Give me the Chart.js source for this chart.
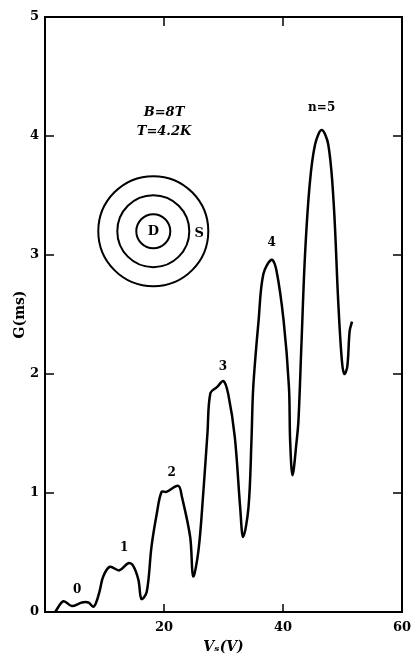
<!DOCTYPE html>
<html>
<head>
<meta charset="utf-8">
<script src="https://cdn.jsdelivr.net/npm/chart.js@4"></script>
<style>
  html, body { margin: 0; padding: 0; background: #fff; }
  #wrap { width: 411px; height: 660px; }
</style>
</head>
<body>
<div id="wrap"><canvas id="chart-1" width="411" height="660"></canvas></div>
<script>
// gate voltage Vs (V) and conductance G (ms)
const vs = [1.7, 3.1, 4.5, 6.2, 7.3, 8.1, 8.6, 9.2, 9.8, 10.9, 12.5, 14.0, 14.8, 15.7, 16.2, 17.1,
  17.9, 18.8, 19.6, 20.4, 22.4, 23.0, 24.4, 24.9, 25.8, 26.6, 27.3, 27.8, 28.9, 30.0, 30.8,
  31.9, 32.8, 33.3, 34.2, 34.7, 35.0, 35.9, 36.7, 38.1, 38.9, 40.1, 41.0, 41.2, 41.6, 42.3,
  42.6, 43.1, 43.7, 44.5, 45.4, 46.5, 47.6, 48.5, 49.3, 49.9, 50.3, 50.8, 51.2, 51.6];
const gs = [0.0, 0.09, 0.05, 0.08, 0.08, 0.045, 0.08, 0.18, 0.30, 0.38, 0.35, 0.41, 0.39, 0.27, 0.11, 0.17,
  0.55, 0.83, 1.01, 1.01, 1.06, 0.97, 0.63, 0.30, 0.52, 1.0, 1.50, 1.84, 1.89, 1.94, 1.83,
  1.47, 0.88, 0.63, 0.88, 1.44, 1.89, 2.45, 2.84, 2.96, 2.87, 2.45, 1.89, 1.44, 1.15, 1.44,
  1.61, 2.25, 3.0, 3.6, 3.93, 4.05, 3.93, 3.45, 2.59, 2.11, 2.0, 2.06, 2.36, 2.44];

// peak labels (n) placed above each maximum
const peakLabels = ['0', '1', '2', '3', '4', 'n=5'];
const peakX = [5.4, 13.3, 21.3, 29.9, 38.1, 46.5];
const peakY = [0.19, 0.54, 1.17, 2.06, 3.1, 4.24];

const xLabels = [20, 40, 60];

const serif = '"DejaVu Serif", "Liberation Serif", serif';

const frame = {
  id: 'frame',
  afterDraw(chart) {
    const { ctx, chartArea: a, scales } = chart;
    const x = scales.x, y = scales.y;
    ctx.save();
    ctx.strokeStyle = '#000';
    ctx.lineWidth = 2;
    ctx.strokeRect(a.left, a.top, a.right - a.left, a.bottom - a.top);
    ctx.lineWidth = 1.5;
    ctx.beginPath();
    y.ticks.forEach(t => {
      const p = y.getPixelForValue(t.value);
      if (p <= a.top + 1 || p >= a.bottom - 1) return;
      ctx.moveTo(a.left, p); ctx.lineTo(a.left + 9, p);
      ctx.moveTo(a.right, p); ctx.lineTo(a.right - 9, p);
    });
    x.ticks.forEach(t => {
      const p = x.getPixelForValue(t.value);
      if (p <= a.left + 1 || p >= a.right - 1) return;
      ctx.moveTo(p, a.top); ctx.lineTo(p, a.top + 9);
      ctx.moveTo(p, a.bottom); ctx.lineTo(p, a.bottom - 8);
    });
    ctx.stroke();

    // peak numbers
    ctx.fillStyle = '#000';
    ctx.textAlign = 'center';
    ctx.textBaseline = 'middle';
    ctx.font = 'bold 12px ' + serif;
    peakLabels.forEach((s, i) => {
      ctx.fillText(s, x.getPixelForValue(peakX[i]), y.getPixelForValue(peakY[i]));
    });

    // conditions
    ctx.font = 'italic bold 13px ' + serif;
    ctx.fillText('B=8T', x.getPixelForValue(20), y.getPixelForValue(4.2));
    ctx.fillText('T=4.2K', x.getPixelForValue(20), y.getPixelForValue(4.04));

    // Corbino disk sketch
    const cx = x.getPixelForValue(18.2), cy = y.getPixelForValue(3.2);
    ctx.lineWidth = 2;
    [55, 36, 17].forEach(r => {
      ctx.beginPath(); ctx.arc(cx, cy, r, 0, Math.PI * 2); ctx.stroke();
    });
    ctx.font = 'bold 13px ' + serif;
    ctx.fillText('D', cx, cy);
    ctx.fillText('S', cx + 46, cy + 2);
    ctx.restore();
  }
};

const data = {
  datasets: [{
    data: vs.map((v, i) => ({ x: v, y: gs[i] })),
    borderColor: '#000',
    borderWidth: 2.5,
    pointRadius: 0,
    tension: 0.35
  }]
};

const config = {
  type: 'line',
  data: data,
  options: {
    responsive: false,
    animation: false,
    layout: { padding: { top: 17, right: 9, left: 0, bottom: 0 } },
    plugins: { legend: { display: false }, tooltip: { enabled: false } },
    scales: {
      x: {
        type: 'linear', min: 0, max: 60,
        afterFit: s => { s.height = 48; s.paddingLeft = 0; s.paddingRight = 0; },
        grid: { display: false, drawTicks: false },
        border: { display: false },
        ticks: {
          stepSize: 10, autoSkip: false, maxRotation: 0, padding: 8,
          color: '#000', font: { family: serif, size: 13, weight: 'bold' },
          callback: v => xLabels.includes(v) ? String(v) : null
        },
        title: {
          display: true, text: 'Vₛ(V)', color: '#000', padding: { top: 4 },
          font: { family: serif, size: 14, style: 'italic', weight: 'bold' }
        }
      },
      y: {
        min: 0, max: 5,
        afterFit: s => { s.width = 45; s.paddingTop = 0; s.paddingBottom = 0; },
        grid: { display: false, drawTicks: false },
        border: { display: false },
        ticks: {
          stepSize: 0.5, autoSkip: false, padding: 6,
          color: '#000', font: { family: serif, size: 13, weight: 'bold' },
          callback: v => Number.isInteger(v) ? String(v) : null
        },
        title: {
          display: true, text: 'G(ms)', color: '#000', padding: { top: 12, bottom: 0 },
          font: { family: serif, size: 14, weight: 'bold' }
        }
      }
    }
  },
  plugins: [frame]
};

const chart1 = new Chart(document.getElementById('chart-1'), config);
</script>
</body>
</html>
